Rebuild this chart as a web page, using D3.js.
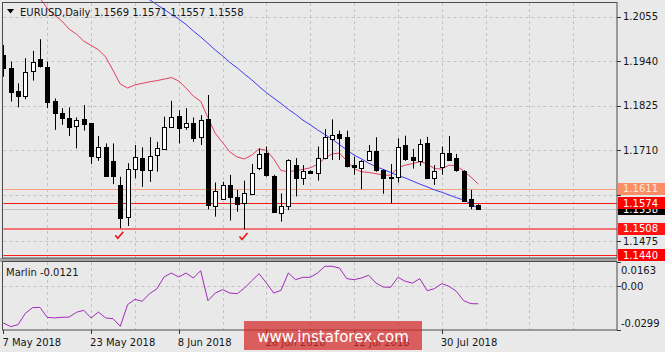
<!DOCTYPE html>
<html>
<head>
<meta charset="utf-8">
<script src="https://cdn.jsdelivr.net/npm/d3@7"></script>
<style>
  body { margin: 0; background: #e9e9e9; }
  svg { display: block; }
  text { font-family: "DejaVu Sans", sans-serif; font-size: 10px; fill: #151515; }
</style>
</head>
<body>
<div id="chart"></div>
<script>
// daily EURUSD candles, bar 0 = 7 May 2018
var opens  = [1.1956,1.1922,1.1864,1.1850,1.1916,1.1945,1.1926,1.1838,1.1806,1.1793,1.1773,1.1790,1.1780,1.1692,1.1720,1.1683,1.1621,1.1537,1.1661,1.1691,1.1659,1.1696,1.1715,1.1771,1.1799,1.1771,1.1781,1.1744,1.1790,1.1567,1.1586,1.1621,1.1589,1.1572,1.1599,1.1664,1.1703,1.1645,1.1549,1.1567,1.1672,1.1638,1.1658,1.1652,1.1690,1.1739,1.1752,1.1744,1.1672,1.1666,1.1687,1.1708,1.1659,1.1641,1.1641,1.1725,1.1693,1.1684,1.1728,1.1641,1.1668,1.1704,1.1690,1.1658,1.1584,1.1569];
var highs  = [1.1982,1.1939,1.1883,1.1948,1.1967,1.1997,1.1939,1.1844,1.1819,1.1821,1.1795,1.1827,1.1781,1.1747,1.1728,1.1728,1.1642,1.1677,1.1724,1.1718,1.1744,1.1732,1.1797,1.1838,1.1814,1.1819,1.1795,1.1801,1.1853,1.1627,1.1629,1.1647,1.1608,1.1632,1.1675,1.1715,1.1720,1.1647,1.1599,1.1687,1.1690,1.1672,1.1659,1.1720,1.1765,1.1790,1.1761,1.1761,1.1694,1.1685,1.1724,1.1744,1.1661,1.1675,1.1741,1.1748,1.1714,1.1739,1.1745,1.1672,1.1720,1.1747,1.1701,1.1659,1.1608,1.1571];
var lows   = [1.1900,1.1836,1.1821,1.1842,1.1890,1.1924,1.1819,1.1763,1.1776,1.1747,1.1715,1.1761,1.1675,1.1683,1.1642,1.1623,1.1509,1.1515,1.1638,1.1616,1.1629,1.1655,1.1713,1.1770,1.1728,1.1763,1.1732,1.1724,1.1558,1.1539,1.1582,1.1529,1.1552,1.1506,1.1599,1.1659,1.1642,1.1549,1.1526,1.1556,1.1591,1.1621,1.1649,1.1632,1.1687,1.1685,1.1685,1.1666,1.1647,1.1610,1.1683,1.1655,1.1598,1.1573,1.1627,1.1683,1.1663,1.1670,1.1636,1.1621,1.1647,1.1683,1.1655,1.1578,1.1558,1.1557];
var closes = [1.1922,1.1861,1.1850,1.1913,1.1939,1.1926,1.1836,1.1806,1.1793,1.1770,1.1788,1.1777,1.1694,1.1718,1.1645,1.1645,1.1537,1.1661,1.1692,1.1659,1.1696,1.1715,1.1771,1.1797,1.1767,1.1781,1.1741,1.1788,1.1567,1.1606,1.1621,1.1589,1.1572,1.1599,1.1652,1.1701,1.1647,1.1552,1.1567,1.1685,1.1638,1.1657,1.1653,1.1690,1.1744,1.1750,1.1741,1.1668,1.1666,1.1683,1.1709,1.1658,1.1638,1.1640,1.1718,1.1690,1.1684,1.1727,1.1638,1.1658,1.1704,1.1687,1.1658,1.1580,1.1565,1.1558];

// moving averages (null = not drawn)
var maRed  = [null,null,null,null,1.2124,1.2103,1.2077,1.2059,1.2044,1.2023,1.2010,1.1992,1.1981,1.1970,1.1951,1.1917,1.1881,1.1871,1.1879,1.1883,1.1887,1.1890,1.1894,1.1898,1.1889,1.1871,1.1850,1.1837,1.1794,1.1754,1.1730,1.1706,1.1693,1.1688,1.1698,1.1714,1.1710,1.1688,1.1658,1.1655,1.1658,1.1661,1.1665,1.1674,1.1690,1.1701,1.1703,1.1683,1.1663,1.1655,1.1653,1.1650,1.1646,1.1646,1.1665,1.1672,1.1676,1.1681,1.1675,1.1663,1.1662,1.1672,1.1670,1.1657,1.1641,1.1623];
var maBlue = [null,null,null,null,null,null,null,null,null,null,null,null,null,null,null,null,null,null,null,1.2112,1.2099,1.2086,1.2074,1.2061,1.2049,1.2035,1.2018,1.2003,1.1986,1.1969,1.1954,1.1937,1.1923,1.1907,1.1892,1.1875,1.1859,1.1845,1.1831,1.1816,1.1803,1.1788,1.1776,1.1763,1.1751,1.1739,1.1725,1.1711,1.1698,1.1688,1.1677,1.1668,1.1661,1.1653,1.1645,1.1639,1.1631,1.1623,1.1616,1.1608,1.1602,1.1595,1.1588,1.1582,1.1572,1.1560];

// Marlin oscillator
var marlin = [-0.0251,-0.0276,-0.0263,-0.0186,-0.0147,-0.0145,-0.0213,-0.0217,-0.0213,-0.0211,-0.0179,-0.0165,-0.0217,-0.0177,-0.0217,-0.0222,-0.0274,-0.0127,-0.0091,-0.0104,-0.0052,-0.0020,0.0062,0.0088,0.0061,0.0088,0.0054,0.0104,-0.0100,-0.0048,-0.0025,-0.0048,-0.0052,-0.0014,0.0036,0.0084,0.0020,-0.0048,-0.0029,0.0088,0.0043,0.0059,0.0059,0.0088,0.0134,0.0134,0.0122,0.0050,0.0043,0.0054,0.0073,0.0020,-0.0007,-0.0009,0.0059,0.0032,0.0020,0.0050,-0.0032,-0.0018,0.0016,-0.0002,-0.0036,-0.0100,-0.0120,-0.0121];

var dateLabels = ["7 May 2018","23 May 2018","8 Jun 2018","26 Jun 2018","12 Jul 2018","30 Jul 2018"];
var dateBars   = [0, 12, 24, 36, 48, 60];
var priceTicks = [1.2055, 1.1940, 1.1825, 1.1710, 1.1595, 1.1475];
var marlinTicks = [0.0163, 0.00, -0.0299];
var levels = [1.1611, 1.1574, 1.1508, 1.1440];
var bid = 1.1558;
var checkBars = [16, 33];

var levelStyle = [
  {line: "#f7a07e", w: 1, box: "#fb8e66", txt: "#ffe8dc"},
  {line: "#ff1a1a", w: 1, box: "#ff0000", txt: "#ffffff"},
  {line: "#f07474", w: 2, box: "#ff1414", txt: "#ffffff"},
  {line: "#ff1a1a", w: 1, box: "#ff0000", txt: "#ffffff"}
];

var W = 665, H = 352;
var left = 3.4, right = 617;
var mainTop = 3, mainBot = 258, indTop = 262, indBot = 330;

var svg = d3.select("#chart").append("svg")
    .attr("width", W)
    .attr("height", H);

svg.append("rect").attr("width", W).attr("height", H).attr("fill", "#e9e9e9");

var x = d3.scaleLinear().domain([0, 84]).range([left, 617.1]);
var y = d3.scaleLinear().domain([1.14323, 1.20904]).range([mainBot, mainTop]);
var yi = d3.scaleLinear().domain([-0.0299, 0.0163]).range([indBot, indTop]);

var px = function(v){ return Math.round(v) + 0.5; };

svg.append("clipPath").attr("id", "mainClip")
  .append("rect").attr("x", 3).attr("y", 0).attr("width", right - 3).attr("height", mainBot);
svg.append("clipPath").attr("id", "indClip")
  .append("rect").attr("x", 3).attr("y", indTop).attr("width", right - 3).attr("height", indBot - indTop);

// grid
var vBars = d3.range(6, 84, 6);
var grid = svg.append("g")
    .attr("stroke", "#c3c3c3")
    .attr("stroke-dasharray", "3,3");
grid.selectAll(".vg").data(vBars).enter().append("line")
    .attr("x1", function(d){ return px(x(d)); })
    .attr("x2", function(d){ return px(x(d)); })
    .attr("y1", mainTop).attr("y2", mainBot);
grid.selectAll(".vgi").data(vBars).enter().append("line")
    .attr("x1", function(d){ return px(x(d)); })
    .attr("x2", function(d){ return px(x(d)); })
    .attr("y1", indTop).attr("y2", indBot);
grid.selectAll(".hg").data(priceTicks).enter().append("line")
    .attr("x1", left).attr("x2", right)
    .attr("y1", function(d){ return px(y(d)); })
    .attr("y2", function(d){ return px(y(d)); });
grid.append("line")
    .attr("x1", left).attr("x2", right)
    .attr("y1", px(yi(0))).attr("y2", px(yi(0)));

// horizontal levels + bid line
var lv = svg.append("g").attr("clip-path", "url(#mainClip)");
lv.append("line")
    .attr("x1", left).attr("x2", right)
    .attr("y1", px(y(bid))).attr("y2", px(y(bid)))
    .attr("stroke", "#c4c4c4");
lv.selectAll(".lvl").data(levels).enter().append("line")
    .attr("x1", left).attr("x2", right)
    .attr("y1", function(d, i){ return levelStyle[i].w == 2 ? Math.round(y(d)) : px(y(d)); })
    .attr("y2", function(d, i){ return levelStyle[i].w == 2 ? Math.round(y(d)) : px(y(d)); })
    .attr("stroke", function(d, i){ return levelStyle[i].line; })
    .attr("stroke-width", function(d, i){ return levelStyle[i].w; });

// moving averages
var maLine = d3.line()
    .defined(function(d){ return d != null; })
    .x(function(d, i){ return x(i); })
    .y(function(d){ return y(d); });
var mas = svg.append("g").attr("clip-path", "url(#mainClip)").attr("fill", "none");
mas.append("path").attr("d", maLine(maRed)).attr("stroke", "#e2405e").attr("stroke-width", 1);
mas.append("path").attr("d", maLine(maBlue)).attr("stroke", "#3c3cf5").attr("stroke-width", 1);

// candles
var bars = d3.range(opens.length);
var cg = svg.append("g").attr("clip-path", "url(#mainClip)");
cg.selectAll(".wick").data(bars).enter().append("line")
    .attr("x1", function(i){ return px(x(i)); })
    .attr("x2", function(i){ return px(x(i)); })
    .attr("y1", function(i){ return y(highs[i]); })
    .attr("y2", function(i){ return y(lows[i]); })
    .attr("stroke", "#000");
cg.selectAll(".body").data(bars).enter().append("rect")
    .attr("x", function(i){ return Math.round(x(i)) - 2 + 0.5; })
    .attr("width", 4)
    .attr("y", function(i){ return Math.round(y(Math.max(opens[i], closes[i]))) + 0.5; })
    .attr("height", function(i){ return Math.max(1, Math.round(Math.abs(y(opens[i]) - y(closes[i])))); })
    .attr("fill", function(i){ return closes[i] >= opens[i] ? "#fff" : "#000"; })
    .attr("stroke", "#000");

// red ticks under the two lows
svg.selectAll(".chk").data(checkBars).enter().append("path")
    .attr("transform", function(i){ return "translate(" + (x(i) - 1) + "," + (y(lows[i]) + 7) + ")"; })
    .attr("d", "M-4,0 L-1.5,3 L4,-3.5")
    .attr("fill", "none")
    .attr("stroke", "#f01010")
    .attr("stroke-width", 1.6);

// oscillator
svg.append("path")
    .attr("clip-path", "url(#indClip)")
    .attr("d", d3.line().x(function(d, i){ return x(i); }).y(function(d){ return yi(d); })(marlin))
    .attr("fill", "none")
    .attr("stroke", "#a02cb8")
    .attr("stroke-width", 1);

// frames
svg.append("rect").attr("x", 0).attr("y", mainBot).attr("width", right).attr("height", indTop - mainBot)
    .attr("fill", "#a4a4a4");
var fr = svg.append("g").attr("fill", "none").attr("stroke", "#4a4a4a");
fr.append("rect").attr("x", 2.5).attr("y", 2.5).attr("width", right - 2.5).attr("height", mainBot - 2.5);
fr.append("rect").attr("x", 2.5).attr("y", indTop - 0.5).attr("width", right - 2.5).attr("height", indBot - indTop + 0.5);

// right price axis
var ax = svg.append("g");
ax.selectAll(".pt").data(priceTicks).enter().append("line")
    .attr("x1", right).attr("x2", right + 4)
    .attr("y1", function(d){ return px(y(d)); })
    .attr("y2", function(d){ return px(y(d)); })
    .attr("stroke", "#333");
ax.selectAll(".pl").data(priceTicks.filter(function(d){
      return levels.concat([bid]).every(function(l){ return Math.abs(y(l) - y(d)) > 9; });
    })).enter().append("text")
    .attr("x", 623)
    .attr("y", function(d){ return y(d); })
    .attr("dy", "0.36em")
    .text(function(d){ return d.toFixed(4); });

// bid box then level boxes
var boxes = svg.append("g");
boxes.append("rect").attr("x", 618).attr("y", Math.round(y(bid)) - 6).attr("width", 47).attr("height", 12).attr("fill", "#000");
boxes.append("text").attr("x", 623).attr("y", y(bid)).attr("dy", "0.36em").style("fill", "#fff").text(bid.toFixed(4));
levels.forEach(function(l, i){
  boxes.append("rect").attr("x", 618).attr("y", Math.round(y(l)) - 6).attr("width", 47).attr("height", 12)
      .attr("fill", levelStyle[i].box);
  boxes.append("text").attr("x", 623).attr("y", y(l)).attr("dy", "0.36em")
      .style("fill", levelStyle[i].txt).text(l.toFixed(4));
});

// oscillator axis
ax.selectAll(".mt").data(marlinTicks).enter().append("line")
    .attr("x1", right).attr("x2", right + 4)
    .attr("y1", function(d){ return px(yi(d)); })
    .attr("y2", function(d){ return px(yi(d)); })
    .attr("stroke", "#333");
ax.selectAll(".ml").data(marlinTicks).enter().append("text")
    .attr("x", 621)
    .attr("y", function(d, i){ return i == 0 ? yi(d) + 12 : (i == 2 ? yi(d) - 3.5 : yi(d) + 3.6); })
    .text(function(d){ return d == 0 ? "0.00" : d.toFixed(4); });

// date axis
ax.selectAll(".dt").data(dateBars).enter().append("line")
    .attr("x1", function(d){ return px(x(d)); })
    .attr("x2", function(d){ return px(x(d)); })
    .attr("y1", indBot).attr("y2", indBot + 4)
    .attr("stroke", "#333");
ax.selectAll(".dl").data(dateBars).enter().append("text")
    .attr("x", function(d){ return x(d) - 1; })
    .attr("y", 346)
    .text(function(d, i){ return dateLabels[i]; });

// titles
svg.append("path").attr("d", "M7,9 L14,9 L10.5,13.5 Z").attr("fill", "#000");
svg.append("text").attr("x", 20).attr("y", 15.5).text("EURUSD,Daily");
svg.append("text").attr("x", 94).attr("y", 15.5)
    .text([opens[65], highs[65], lows[65], closes[65]].map(function(d){ return d.toFixed(4); }).join(" "));
svg.append("text").attr("x", 6).attr("y", 275.5).text("Marlin " + marlin[65].toFixed(4));

// watermark
svg.append("rect").attr("x", 244).attr("y", 321).attr("width", 178).attr("height", 29)
    .attr("fill", "#d62828").attr("fill-opacity", 0.72);
svg.append("text").attr("x", 333).attr("y", 342).attr("text-anchor", "middle")
    .style("font-size", "15px").style("fill", "#fff")
    .text("www.instaforex.com");
</script>
</body>
</html>
